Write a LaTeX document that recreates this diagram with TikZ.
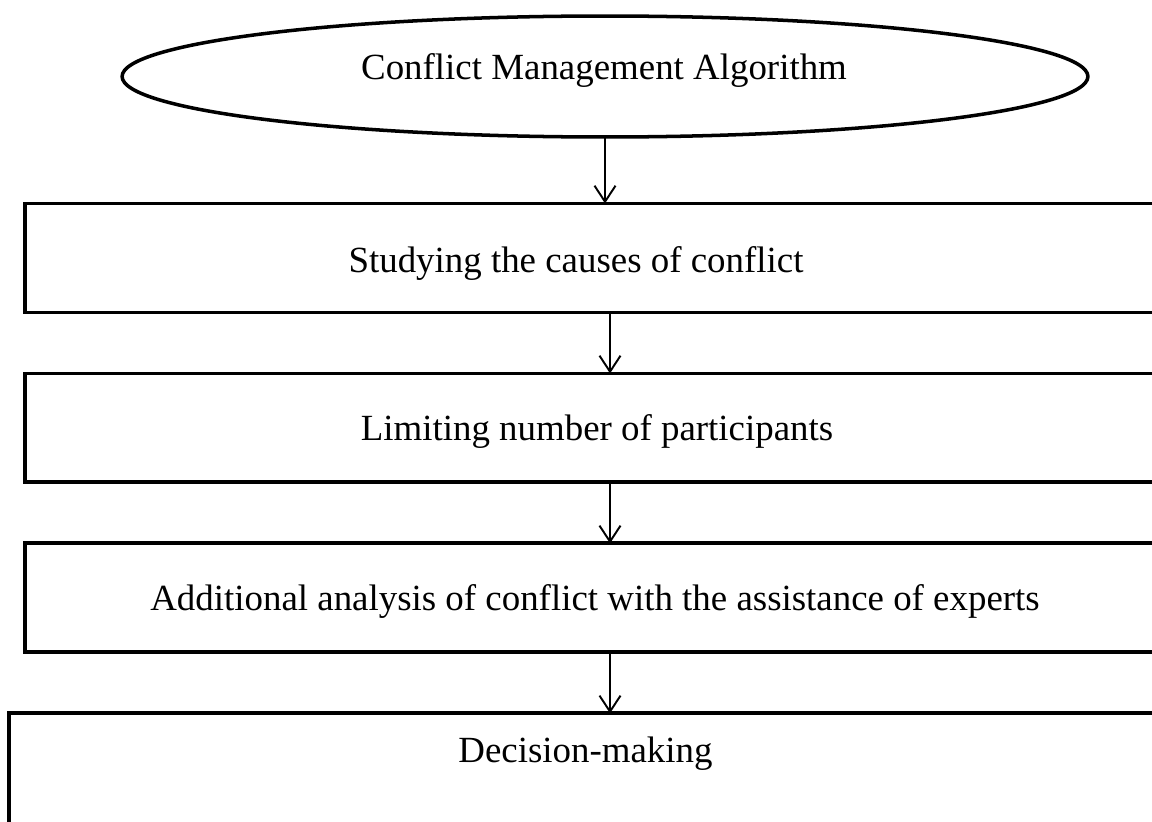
\documentclass[tikz,border=0pt]{standalone}
\usepackage{fontspec}
\setmainfont{Liberation Serif}
\usetikzlibrary{positioning,shapes.geometric,arrows.meta}

\begin{document}
\begin{tikzpicture}[x=0.02cm, y=-0.02cm,
  stepbox/.style={draw, rectangle, line width=2.2pt, outer sep=0pt,
    minimum width=23.2cm, minimum height=2.18cm},
  titleshape/.style={draw, ellipse, line width=2pt, outer sep=0pt,
    minimum width=19.32cm, minimum height=2.42cm},
  flow/.style={line width=1.1pt, -{Straight Barb[length=0.32cm, width=0.42cm]}},
  txt/.style={font=\fontsize{21}{25}\selectfont, inner sep=0pt, anchor=base}]
  %The frame of the page; the boxes run past its right edge.
  \path[use as bounding box, clip] (0,0) rectangle (1152,821);
  %Define the shapes first.
  \node[titleshape] (ell) at (605,76.5) {}; %the title ellipse
  \node[stepbox, below=1.33cm of ell] (b1) {}; %first step
  \node[stepbox, below=1.22cm of b1] (b2) {};
  \node[stepbox, below=1.22cm of b2] (b3) {};
  %the last box is wider and taller, it leaves the page at the bottom
  \node[stepbox, minimum width=23.84cm, minimum height=3.2cm,
    below=1.22cm of b3] (b4) {};
  %The texts, set on their base lines.
  \node[txt] (t0) at (604,80) {Conflict Management Algorithm};
  \node[txt] (t1) at (576,272) {Studying the causes of conflict};
  \node[txt] (t2) at (597,440) {Limiting number of participants};
  \node[txt] (t3) at (595,610) {Additional analysis of conflict with the assistance of experts};
  \node[txt] (t4) at (585.5,762) {Decision-making};
  %Connect the steps, top to bottom.
  \draw[flow] (ell.south) -- (ell.south |- b1.north);
  \foreach \u/\v in {b1/b2, b2/b3, b3/b4}
    \draw[flow] ([xshift=0.1cm]\u.south) -- ([xshift=0.1cm]\v.north);
\end{tikzpicture}
\end{document}
